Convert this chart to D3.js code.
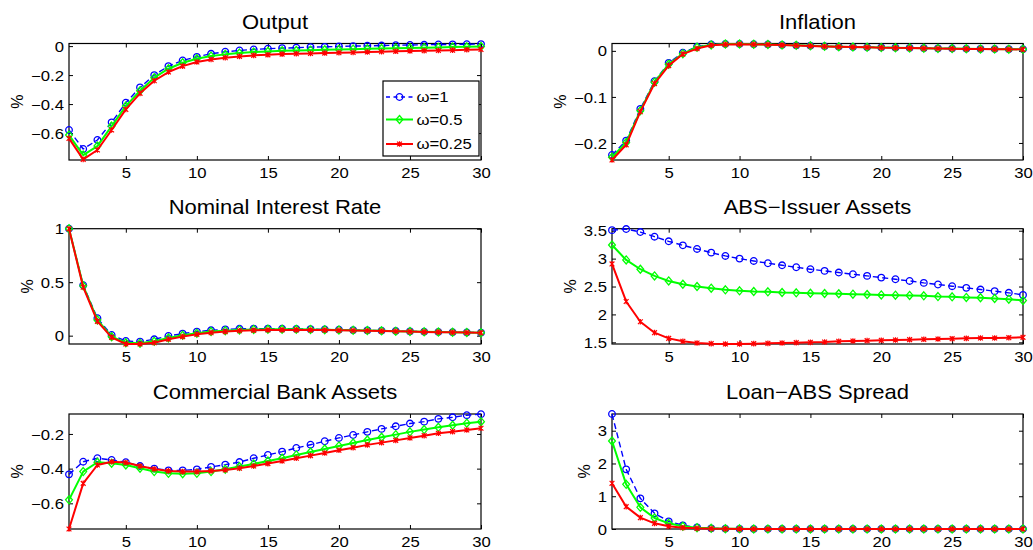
<!DOCTYPE html>
<html><head><meta charset="utf-8">
<script src="https://cdn.jsdelivr.net/npm/d3@7"></script>
<style>
body{margin:0;background:#fff}
svg{display:block}
text{font-family:"Liberation Sans",Arial,Helvetica,sans-serif;fill:#000}
</style></head>
<body><svg id="c" width="1033" height="550"></svg>
<script>
// ---------------- data ----------------
const periods = [1,2,3,4,5,6,7,8,9,10,11,12,13,14,15,16,17,18,19,20,21,22,23,24,25,26,27,28,29,30];
const seriesNames = ["\u03c9=1", "\u03c9=0.5", "\u03c9=0.25"];
const xTicks = [5,10,15,20,25,30];

const outputW1 = [-0.579,-0.71,-0.648,-0.526,-0.391,-0.285,-0.2,-0.138,-0.099,-0.074,-0.053,-0.039,-0.03,-0.023,-0.018,-0.014,-0.011,-0.007,-0.005,-0.002,0,0.002,0.004,0.006,0.008,0.009,0.011,0.012,0.013,0.014];
const outputW05 = [-0.614,-0.752,-0.69,-0.552,-0.414,-0.308,-0.218,-0.156,-0.115,-0.087,-0.069,-0.057,-0.048,-0.041,-0.037,-0.032,-0.03,-0.028,-0.025,-0.023,-0.021,-0.019,-0.017,-0.015,-0.013,-0.011,-0.009,-0.007,-0.005,-0.003];
const outputW025 = [-0.637,-0.782,-0.717,-0.579,-0.437,-0.326,-0.239,-0.179,-0.138,-0.11,-0.092,-0.08,-0.071,-0.064,-0.06,-0.055,-0.053,-0.051,-0.048,-0.046,-0.044,-0.041,-0.039,-0.036,-0.034,-0.032,-0.03,-0.028,-0.025,-0.023];
const outputTicks = [-0.6,-0.4,-0.2,0];
const outputLimits = [-0.786, 0.018];

const inflW1 = [-0.226,-0.195,-0.126,-0.066,-0.026,-0.004,0.009,0.014,0.015,0.015,0.0145,0.014,0.013,0.012,0.011,0.01,0.009,0.0085,0.008,0.0075,0.007,0.0065,0.006,0.0055,0.005,0.0047,0.0044,0.004,0.0037,0.0034];
const inflW05 = [-0.231,-0.199,-0.13,-0.068,-0.029,-0.006,0.008,0.013,0.015,0.015,0.0145,0.0138,0.013,0.012,0.011,0.0098,0.009,0.0084,0.0078,0.0072,0.0067,0.0062,0.0057,0.0053,0.0049,0.0045,0.0042,0.0039,0.0036,0.0033];
const inflW025 = [-0.237,-0.204,-0.132,-0.071,-0.032,-0.007,0.005,0.012,0.014,0.0145,0.014,0.0135,0.0125,0.0115,0.0105,0.0096,0.0088,0.0082,0.0076,0.007,0.0065,0.006,0.0055,0.0051,0.0047,0.0043,0.004,0.0037,0.0034,0.0031];
const inflTicks = [-0.2,-0.1,0];
const inflLimits = [-0.237, 0.016];

const rateW1 = [1,0.472,0.163,0.006,-0.05,-0.056,-0.034,-0.003,0.019,0.038,0.05,0.059,0.064,0.066,0.066,0.065,0.063,0.061,0.058,0.055,0.052,0.049,0.046,0.043,0.04,0.037,0.034,0.032,0.03,0.028];
const rateW05 = [1,0.466,0.147,-0.01,-0.066,-0.072,-0.053,-0.022,0.003,0.022,0.038,0.047,0.054,0.058,0.06,0.06,0.059,0.058,0.056,0.054,0.051,0.048,0.045,0.042,0.039,0.036,0.034,0.032,0.03,0.028];
const rateW025 = [1,0.453,0.134,-0.016,-0.078,-0.078,-0.066,-0.034,-0.009,0.0125,0.028,0.038,0.046,0.05,0.053,0.054,0.054,0.053,0.052,0.05,0.048,0.046,0.043,0.041,0.038,0.035,0.033,0.031,0.029,0.027];
const rateTicks = [0,0.5,1];
const rateLimits = [-0.078, 1];

const absW1 = [3.51,3.53,3.476,3.393,3.31,3.238,3.173,3.107,3.048,3.0,2.958,2.917,2.88,2.845,2.81,2.78,2.75,2.72,2.69,2.66,2.63,2.6,2.565,2.536,2.506,2.476,2.446,2.417,2.387,2.35];
const absW05 = [3.244,2.976,2.81,2.69,2.6,2.54,2.5,2.47,2.44,2.423,2.41,2.405,2.393,2.387,2.38,2.375,2.37,2.363,2.357,2.35,2.345,2.34,2.333,2.32,2.315,2.305,2.298,2.286,2.274,2.25];
const absW025 = [2.905,2.232,1.869,1.673,1.571,1.518,1.488,1.476,1.47,1.47,1.476,1.482,1.488,1.494,1.5,1.506,1.518,1.524,1.53,1.536,1.542,1.548,1.554,1.56,1.565,1.571,1.577,1.577,1.583,1.589];
const absTicks = [1.5,2,2.5,3,3.5];
const absLimits = [1.47, 3.536];

const bankW1 = [-0.433,-0.36,-0.34,-0.35,-0.363,-0.385,-0.4,-0.41,-0.41,-0.404,-0.39,-0.377,-0.362,-0.34,-0.321,-0.302,-0.281,-0.262,-0.242,-0.223,-0.206,-0.188,-0.171,-0.156,-0.14,-0.129,-0.113,-0.104,-0.092,-0.086];
const bankW05 = [-0.58,-0.417,-0.363,-0.369,-0.379,-0.398,-0.417,-0.427,-0.429,-0.427,-0.417,-0.404,-0.388,-0.373,-0.356,-0.34,-0.321,-0.304,-0.287,-0.269,-0.252,-0.235,-0.219,-0.204,-0.188,-0.175,-0.162,-0.15,-0.138,-0.129];
const bankW025 = [-0.748,-0.485,-0.379,-0.36,-0.365,-0.385,-0.402,-0.413,-0.417,-0.417,-0.413,-0.408,-0.398,-0.385,-0.371,-0.356,-0.34,-0.325,-0.31,-0.294,-0.279,-0.263,-0.25,-0.237,-0.223,-0.21,-0.196,-0.187,-0.177,-0.167];
const bankTicks = [-0.6,-0.4,-0.2];
const bankLimits = [-0.748, -0.085];

const spreadW1 = [3.51,1.82,0.936,0.478,0.234,0.112,0.05,0.02,0.01,0.005,0.002,0.001,0,0,0,0,0,0,0,0,0,0,0,0,0,0,0,0,0,0];
const spreadW05 = [2.686,1.363,0.661,0.336,0.173,0.081,0.04,0.02,0.01,0.005,0.002,0.001,0,0,0,0,0,0,0,0,0,0,0,0,0,0,0,0,0,0];
const spreadW025 = [1.394,0.682,0.346,0.173,0.081,0.04,0.02,0.01,0.005,0.002,0.001,0,0,0,0,0,0,0,0,0,0,0,0,0,0,0,0,0,0,0];
const spreadTicks = [0,1,2,3];
const spreadLimits = [0, 3.51];

const panels = [
  {title:"Output", series:[outputW1,outputW05,outputW025], ticks:outputTicks, limits:outputLimits, legend:true},
  {title:"Inflation", series:[inflW1,inflW05,inflW025], ticks:inflTicks, limits:inflLimits},
  {title:"Nominal Interest Rate", series:[rateW1,rateW05,rateW025], ticks:rateTicks, limits:rateLimits},
  {title:"ABS\u2212Issuer Assets", series:[absW1,absW05,absW025], ticks:absTicks, limits:absLimits},
  {title:"Commercial Bank Assets", series:[bankW1,bankW05,bankW025], ticks:bankTicks, limits:bankLimits},
  {title:"Loan\u2212ABS Spread", series:[spreadW1,spreadW05,spreadW025], ticks:spreadTicks, limits:spreadLimits}
];

// ---------------- styles ----------------
const styles = [
  {color:"#0000ff", dash:"6,3.5", width:1.4, marker:"circle"},
  {color:"#00ff00", dash:null, width:2, marker:"diamond"},
  {color:"#ff0000", dash:null, width:2, marker:"star"}
];
const SX = 1.15;        // horizontal stretch of the original rendering
const TICK_FS = 14.5;
const TITLE_FS = 20;
const colX = [[69,481],[612,1023]];
const rowY = [[43.5,160],[228.7,344],[414,529]];

const svg = d3.select("#c");
const fmt = d => String(d).replace("-", "\u2212");

function drawMarker(sel, type, color){
  if(type==="circle"){
    sel.append("circle").attr("r",3.3).attr("fill","none").attr("stroke",color).attr("stroke-width",1.3);
  } else if(type==="diamond"){
    sel.append("path").attr("d","M0,-4L3.4,0L0,4L-3.4,0Z").attr("fill","none").attr("stroke",color).attr("stroke-width",1.3);
  } else {
    sel.append("path").attr("d","M-2.4,-2.4L2.4,2.4M-2.4,2.4L2.4,-2.4M0,-2.8L0,2.8").attr("fill","none").attr("stroke",color).attr("stroke-width",1.2);
  }
}

panels.forEach((p,i)=>{
  const col = i%2, row = Math.floor(i/2);
  const [x0,x1] = colX[col], [y0,y1] = rowY[row];
  const x = d3.scaleLinear().domain([1,30]).range([x0,x1]);
  const y = d3.scaleLinear().domain(p.limits).range([y1,y0]);
  const g = svg.append("g");

  g.append("rect").attr("x",x0).attr("y",y0).attr("width",x1-x0).attr("height",y1-y0).attr("fill","#fff");

  const axB = g.append("g").attr("transform",`translate(0,${y1})`)
    .call(d3.axisBottom(x).tickValues(xTicks).tickSize(-4).tickSizeOuter(0).tickPadding(8).tickFormat(fmt));
  const axT = g.append("g").attr("transform",`translate(0,${y0})`)
    .call(d3.axisTop(x).tickValues(xTicks).tickSize(-4).tickSizeOuter(0).tickFormat(""));
  const axL = g.append("g").attr("transform",`translate(${x0},0)`)
    .call(d3.axisLeft(y).tickValues(p.ticks).tickSize(-4).tickSizeOuter(0).tickPadding(5/SX).tickFormat(fmt));
  const axR = g.append("g").attr("transform",`translate(${x1},0)`)
    .call(d3.axisRight(y).tickValues(p.ticks).tickSize(-4).tickSizeOuter(0).tickFormat(""));
  [axB,axT,axL,axR].forEach(a=>{
    a.select(".domain").remove();
    a.selectAll("line").attr("stroke","#000").attr("stroke-width",1);
  });
  axB.selectAll("text").attr("font-size",TICK_FS).attr("font-family",null).attr("transform",`scale(${SX},1)`).attr("dy","0.71em");
  axL.selectAll("text").attr("font-size",TICK_FS).attr("font-family",null).attr("transform",`scale(${SX},1)`).attr("dy","0.35em");

  g.append("rect").attr("x",x0).attr("y",y0).attr("width",x1-x0).attr("height",y1-y0)
    .attr("fill","none").attr("stroke","#000").attr("stroke-width",1.2);

  p.series.forEach((vals,si)=>{
    const st = styles[si];
    const pts = periods.map((t,k)=>[t,vals[k]]);
    g.append("path").datum(pts)
      .attr("d", d3.line().x(d=>x(d[0])).y(d=>y(d[1])))
      .attr("fill","none").attr("stroke",st.color).attr("stroke-width",st.width)
      .attr("stroke-dasharray",st.dash).attr("stroke-linejoin","round");
    const mk = g.append("g").selectAll("g").data(pts).join("g")
      .attr("transform",d=>`translate(${x(d[0])},${y(d[1])})`);
    drawMarker(mk, st.marker, st.color);
  });

  g.append("text").attr("transform",`translate(${(x0+x1)/2},${y0-15}) scale(1.1,1)`)
    .attr("text-anchor","middle").attr("font-size",TITLE_FS).text(p.title);

  let maxW = 0;
  axL.selectAll("text").each(function(){ maxW = Math.max(maxW, this.getComputedTextLength()*SX); });
  const lx = x0 - 5 - maxW - 8;
  g.append("text").attr("transform",`translate(${lx},${(y0+y1)/2}) rotate(-90)`)
    .attr("text-anchor","middle").attr("font-size",16).text("%");

  if(p.legend){
    const lw = 96, lh = 75;
    const lx0 = x1 - 2 - lw, ly0 = y1 - 4 - lh;
    const lg = g.append("g").attr("transform",`translate(${lx0},${ly0})`);
    lg.append("rect").attr("width",lw).attr("height",lh).attr("fill","#fff").attr("stroke","#000").attr("stroke-width",1.2);
    const rowsY = [16, 38.5, 63];
    seriesNames.forEach((name,si)=>{
      const st = styles[si];
      lg.append("line").attr("x1",3).attr("x2",30).attr("y1",rowsY[si]).attr("y2",rowsY[si])
        .attr("stroke",st.color).attr("stroke-width",st.width).attr("stroke-dasharray",st.dash ? "4,3.5" : null);
      drawMarker(lg.append("g").attr("transform",`translate(16.5,${rowsY[si]})`), st.marker, st.color);
      lg.append("text").attr("transform",`translate(33.5,${rowsY[si]}) scale(${SX},1)`)
        .attr("dy","0.35em").attr("font-size",TICK_FS).text(name);
    });
  }
});
</script></body></html>
